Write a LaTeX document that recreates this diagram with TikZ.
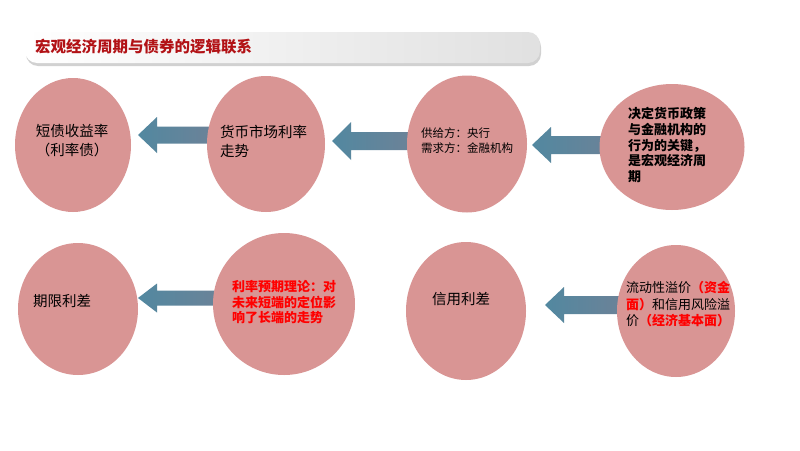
\documentclass[tikz,border=0pt]{standalone}
\usepackage{fontspec}
\newfontfamily\cjk{Noto Sans CJK SC}
\usetikzlibrary{shapes.geometric, calc, backgrounds}
\definecolor{bubble}{RGB}{217,149,148}
\definecolor{arrowL}{RGB}{82,136,160}
\definecolor{arrowR}{RGB}{126,126,146}
\definecolor{titlered}{RGB}{178,18,22}
\definecolor{txtred}{RGB}{255,0,0}
\tikzset{
  bubble/.style={ellipse, fill=bubble, inner sep=0pt},
  label/.style={inner sep=0pt, align=left, font=\cjk\fontsize{14.5}{19}\selectfont},
  smalllabel/.style={label, font=\cjk\fontsize{11.5}{15}\selectfont},
  boldlabel/.style={label, font=\cjk\bfseries\fontsize{13}{15.8}\selectfont},
  blockarrow/.style={left color=arrowL, right color=arrowR},
}
% block arrow: #1 = tip, #2 = node whose centre holds the tail, #3 = head half height, #4 = shaft half height
\newcommand\blockarrow[4]{%
  \shade[blockarrow] let \p1=(#1), \p2=(#2) in
    (\x1,\y1) -- (\x1+19pt,\y1+#3pt) -- (\x1+19pt,\y1+#4pt) -- (\x2,\y1+#4pt)
    -- (\x2,\y1-#4pt) -- (\x1+19pt,\y1-#4pt) -- (\x1+19pt,\y1-#3pt) -- cycle;}
\begin{document}
\begin{tikzpicture}[x=1pt,y=-1pt]
      \useasboundingbox (0,0) rectangle (800,450);
      %%%%%%%%%%%%%%%%%%%%%%%%%%%%%%%%%%%%%%%
      % title bar
      \fill[black!18, rounded corners=12pt] (26,35) rectangle (541,66);
      \shade[left color=white, right color=black!12, rounded corners=12pt] (25,32) rectangle (540,63);
      \node (title) [anchor=west, inner sep=0pt, text=titlered, font=\cjk\bfseries\fontsize{15.5}{15.5}\selectfont] at (35,47) {宏观经济周期与债券的逻辑联系};
      %%%%%%%%%%%%%%%%%%%%%%%%%%%%%%%%%%%%%%%
      % first row
      \node (e1) [bubble, minimum width=116, minimum height=134] at (73,145) {};
      \node (e2) [bubble, minimum width=118, minimum height=136] at (266,144) {};
      \node (e3) [bubble, minimum width=120, minimum height=137] at (467,144) {};
      \node (e4) [bubble, minimum width=145, minimum height=126] at (672,147) {};
      \node (t1) [label, align=center] at (72,141) {短债收益率\\（利率债）};
      \node (t2) [label, anchor=west] at (220,141) {货币市场利率\\走势};
      \node (t3) [smalllabel, anchor=west] at (421,141) {供给方：央行\\需求方：金融机构};
      \node (t4) [boldlabel, anchor=west] at (628,145) {决定货币政策\\与金融机构的\\行为的关键，\\是宏观经济周\\期};
      %%%%%%%%%%%%%%%%%%%%%%%%%%%%%%%%%%%%%%%
      % second row
      \node (e5) [bubble, minimum width=120, minimum height=132] at (78,309) {};
      \node (e6) [bubble, minimum width=142, minimum height=142] at (284,304) {};
      \node (e7) [bubble, minimum width=120, minimum height=138] at (466,311) {};
      \node (e8) [bubble, minimum width=118, minimum height=132] at (676,311) {};
      \node (t5) [label, anchor=west] at (33,301) {期限利差};
      \node (t6) [boldlabel, anchor=west, text=txtred, font=\cjk\bfseries\fontsize{13}{15.5}\selectfont] at (232,302.5) {利率预期理论：对\\未来短端的定位影\\响了长端的走势};
      \node (t7) [label, anchor=west] at (432,299) {信用利差};
      \node (t8) [label, anchor=west, font=\cjk\fontsize{13}{16.5}\selectfont] at (626,304.5)
        {流动性溢价{\bfseries\color{txtred}（资金}\\{\bfseries\color{txtred}面）}和信用风险溢\\价{\bfseries\color{txtred}（经济基本面）}};
      %%%%%%%%%%%%%%%%%%%%%%%%%%%%%%%%%%%%%%%
      % arrows
      \coordinate (a1) at (138,135);
      \coordinate (a2) at (332,141);
      \coordinate (a3) at (532,145);
      \coordinate (a4) at (138,298);
      \coordinate (a5) at (545,305);
      \begin{scope}[on background layer]
      \fill[white] (0,0) rectangle (800,450);
      \blockarrow{a1}{e2}{18}{8.5}
      \blockarrow{a2}{e3}{19}{9}
      \blockarrow{a3}{e4}{18}{9}
      \blockarrow{a4}{e6}{14.5}{7.5}
      \blockarrow{a5}{e8}{18}{9}
      \end{scope}
\end{tikzpicture}
\end{document}
